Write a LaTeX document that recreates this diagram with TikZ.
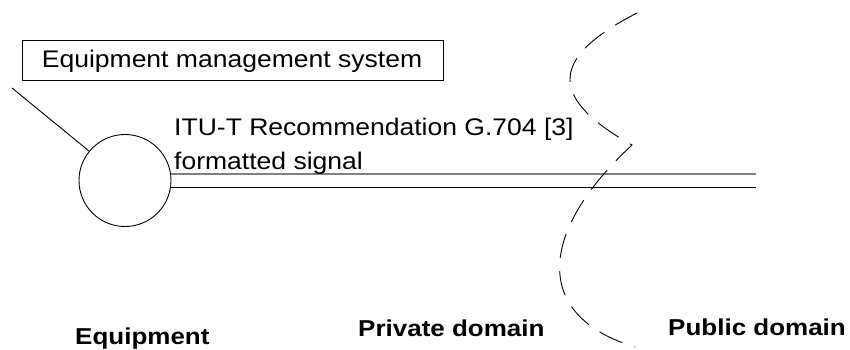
\documentclass[tikz,border=0pt]{standalone}
\usepackage{fontspec}
\setmainfont{Liberation Sans}
\newfontfamily\labfont[FakeStretch=1.105]{Liberation Sans}
\newfontfamily\domfont[FakeStretch=1.13]{Liberation Sans}
\usetikzlibrary{calc}
\begin{document}
\begin{tikzpicture}[x=1pt,y=-1pt,
  txt/.style={inner sep=0pt,font=\labfont\fontsize{24}{28}\selectfont},
  domlabel/.style={inner sep=0pt,font=\domfont\bfseries\fontsize{23}{27}\selectfont},
  thin line/.style={line width=0.9pt}]
  \useasboundingbox (0,0) rectangle (850,349);

  % management system box
  \node[draw,thin line,minimum width=421pt,minimum height=40pt,inner sep=0pt] (ems) at (232.5,60) {};
  \node[txt] (emslabel) at (232,61) {Equipment management system};

  % equipment circle and its management link
  \node[draw,thin line,circle,minimum size=92pt,inner sep=0pt] (eq) at (125,180.5) {};
  \coordinate (mgmt) at (12,88);
  \draw[thin line] (mgmt) -- (eq);

  % signal lines
  \coordinate (sigtop) at (756,174);
  \coordinate (sigbot) at (756,187);
  \draw[line width=1.2pt,gray] (eq.east |- sigtop) ++(-0.5,0) -- (sigtop);
  \draw[thin line] (eq.east |- sigbot) ++(-1.5,0) -- (sigbot);

  \node[txt,anchor=base west] (sig1) at (174,135) {ITU-T Recommendation G.704 [3]};
  \node[txt,anchor=base west] (sig2) at (174,169) {formatted signal};

  % domain boundary
  \draw[thin line,dash pattern=on 25pt off 13pt]
    (637,13) .. controls (545,60) and (552,100) .. (632,145)
             .. controls (540,230) and (530,315) .. (635,347);

  % domain labels
  \node[domlabel,anchor=base west] (leq) at (75,344) {Equipment};
  \node[domlabel,anchor=base west] (lpriv) at (358,336) {Private domain};
  \node[domlabel,anchor=base west] (lpub) at (668,335) {Public domain};
\end{tikzpicture}
\end{document}
